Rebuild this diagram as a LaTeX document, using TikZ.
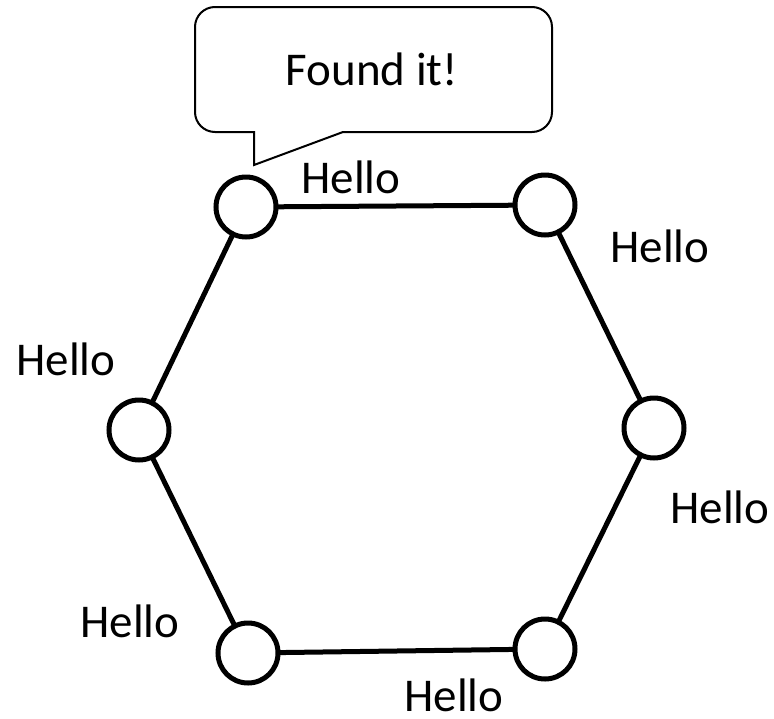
\documentclass[tikz,border=0pt]{standalone}
\usepackage{fontspec}
\setmainfont{Carlito}
\begin{document}
\begin{tikzpicture}[x=1pt,y=1pt,
  vert/.style={circle,draw,line width=5pt,minimum size=60pt,inner sep=0pt,fill=white},
  edge/.style={line width=5pt},
  lbl/.style={font=\fontsize{47}{56}\selectfont,inner sep=0pt,anchor=base},
  bubble/.style={line width=2pt}]
\useasboundingbox (0,0) rectangle (774,-718);
% callout
\draw[bubble] (254,-132) -- (254,-165) -- (343,-132) -- (532,-132)
  arc[start angle=-90,end angle=0,radius=20] -- (552,-27)
  arc[start angle=0,end angle=90,radius=20] -- (215,-7)
  arc[start angle=90,end angle=180,radius=20] -- (195,-112)
  arc[start angle=180,end angle=270,radius=20] -- cycle;
\node[lbl] (found) at (372,-85) {Found it!};
% edges and nodes
\coordinate (pA) at (246,-207);
\coordinate (pB) at (545,-205);
\coordinate (pC) at (654,-428);
\coordinate (pD) at (545,-649);
\coordinate (pE) at (248,-653);
\coordinate (pF) at (139,-430);
\draw[edge] (pA) -- (pB) -- (pC) -- (pD) -- (pE) -- (pF) -- cycle;
\node[vert] (A) at (pA) {};
\node[vert] (B) at (pB) {};
\node[vert] (C) at (pC) {};
\node[vert] (D) at (pD) {};
\node[vert] (E) at (pE) {};
\node[vert] (F) at (pF) {};
% labels
\node[lbl] (l1) at (351,-193) {Hello};
\node[lbl] (l2) at (660,-262) {Hello};
\node[lbl] (l3) at (66,-375) {Hello};
\node[lbl] (l4) at (720,-523) {Hello};
\node[lbl] (l5) at (130,-637) {Hello};
\node[lbl] (l6) at (454,-711) {Hello};
\end{tikzpicture}
\end{document}
